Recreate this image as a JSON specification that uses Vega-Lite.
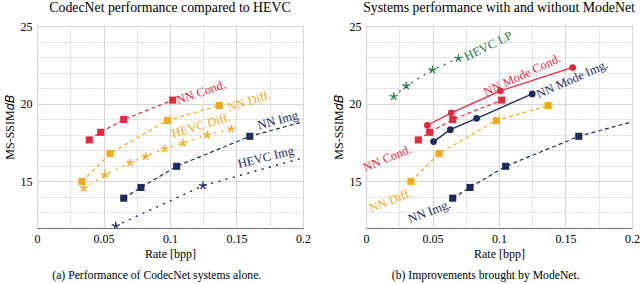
{
  "$schema": "https://vega.github.io/schema/vega-lite/v6.json",
  "background": "white",
  "padding": {"left": 2, "top": 0, "right": 2, "bottom": 0},
  "config": {
    "font": "Liberation Serif",
    "view": {"stroke": "#555555", "strokeWidth": 1},
    "title": {"font": "Liberation Serif", "fontSize": 13.8, "fontWeight": "normal", "color": "black"},
    "text": {"font": "Liberation Serif"},
    "axis": {"labelFont": "Liberation Serif", "labelFontSize": 12, "labelColor": "black", "titleFont": "Liberation Serif", "titleFontSize": 12, "titleFontWeight": "normal", "titleColor": "black", "domain": false, "ticks": false}
  },
  "datasets": {
    "pts": [
      {"s": "NN Cond.", "r": 0.0393, "v": 17.67}, {"s": "NN Cond.", "r": 0.0479, "v": 18.16}, {"s": "NN Cond.", "r": 0.0652, "v": 18.98}, {"s": "NN Cond.", "r": 0.102, "v": 20.23},
      {"s": "NN Diff.", "r": 0.0338, "v": 15.0}, {"s": "NN Diff.", "r": 0.0549, "v": 16.79}, {"s": "NN Diff.", "r": 0.098, "v": 18.92}, {"s": "NN Diff.", "r": 0.137, "v": 19.88},
      {"s": "HEVC Diff.", "r": 0.0351, "v": 14.57}, {"s": "HEVC Diff.", "r": 0.0511, "v": 15.41}, {"s": "HEVC Diff.", "r": 0.0699, "v": 16.2}, {"s": "HEVC Diff.", "r": 0.0817, "v": 16.61}, {"s": "HEVC Diff.", "r": 0.096, "v": 17.09}, {"s": "HEVC Diff.", "r": 0.1098, "v": 17.47}, {"s": "HEVC Diff.", "r": 0.128, "v": 17.99}, {"s": "HEVC Diff.", "r": 0.146, "v": 18.38},
      {"s": "NN Img", "r": 0.0652, "v": 13.92}, {"s": "NN Img", "r": 0.0782, "v": 14.61}, {"s": "NN Img", "r": 0.105, "v": 15.97}, {"s": "NN Img", "r": 0.16, "v": 17.9}, {"s": "NN Img", "r": 0.25, "v": 20.0},
      {"s": "HEVC Img", "r": 0.0592, "v": 12.14}, {"s": "HEVC Img", "r": 0.1248, "v": 14.72}, {"s": "HEVC Img", "r": 0.25, "v": 17.7},
      {"s": "HEVC LP", "r": 0.0208, "v": 20.46}, {"s": "HEVC LP", "r": 0.0303, "v": 21.14}, {"s": "HEVC LP", "r": 0.05, "v": 22.18}, {"s": "HEVC LP", "r": 0.0695, "v": 22.92},
      {"s": "NN Mode Cond.", "r": 0.0461, "v": 18.61}, {"s": "NN Mode Cond.", "r": 0.0641, "v": 19.41}, {"s": "NN Mode Cond.", "r": 0.101, "v": 20.83}, {"s": "NN Mode Cond.", "r": 0.1554, "v": 22.33},
      {"s": "NN Mode Img.", "r": 0.0508, "v": 17.56}, {"s": "NN Mode Img.", "r": 0.0634, "v": 18.33}, {"s": "NN Mode Img.", "r": 0.0832, "v": 19.06}, {"s": "NN Mode Img.", "r": 0.125, "v": 20.63}
    ],
    "labelsA": [
      {"s": "NN Cond.", "t": "NN Cond.", "r": 0.1233, "v": 20.74},
      {"s": "NN Diff.", "t": "NN Diff.", "r": 0.1595, "v": 20.16},
      {"s": "HEVC Diff.", "t": "HEVC Diff.", "r": 0.1233, "v": 18.61},
      {"s": "NN Img", "t": "NN Img", "r": 0.181, "v": 18.94},
      {"s": "HEVC Img", "t": "HEVC Img", "r": 0.172, "v": 16.55}
    ],
    "labelsB": [
      {"s": "HEVC LP", "t": "HEVC LP", "r": 0.092, "v": 23.71},
      {"s": "NN Mode Cond.", "t": "NN Mode Cond.", "r": 0.1175, "v": 21.84},
      {"s": "NN Mode Img.", "t": "NN Mode Img.", "r": 0.155, "v": 21.58},
      {"s": "NN Cond.", "t": "NN Cond.", "r": 0.016, "v": 16.48},
      {"s": "NN Diff.", "t": "NN Diff.", "r": 0.0183, "v": 13.77},
      {"s": "NN Img", "t": "NN Img.", "r": 0.0476, "v": 13.06}
    ]
  },
  "hconcat": [
    {
      "title": {"text": "(a) Performance of CodecNet systems alone.", "orient": "bottom", "fontSize": 11.7, "offset": 10, "anchor": "middle"},
      "vconcat": [
        {
          "title": {"text": "CodecNet performance compared to HEVC", "frame": "group", "offset": 5},
          "width": 266, "height": 202,
          "encoding": {
            "x": {"field": "r", "type": "quantitative", "title": "Rate [bpp]", "scale": {"domain": [0, 0.2], "nice": false},
              "axis": {"values": [0, 0.025, 0.05, 0.075, 0.1, 0.125, 0.15, 0.175, 0.2], "labelExpr": "abs(datum.value*20 - round(datum.value*20)) < 0.000001 ? format(datum.value, '~g') : ''", "labelPadding": 5, "titlePadding": 4, "labelFlush": false, "labelFont": "Liberation Serif", "titleFont": "Liberation Serif",
                "gridColor": {"condition": {"test": "abs(datum.value*20 - round(datum.value*20)) < 0.000001", "value": "#d6d6d6"}, "value": "#b8b8b8"},
                "gridDash": {"condition": {"test": "abs(datum.value*20 - round(datum.value*20)) < 0.000001", "value": []}, "value": [1, 2]}}},
            "y": {"field": "v", "type": "quantitative", "title": "MS-SSIM𝑑𝐵", "scale": {"domain": [12, 25], "nice": false, "zero": false},
              "axis": {"values": [12, 13, 14, 15, 16, 17, 18, 19, 20, 21, 22, 23, 24, 25], "labelExpr": "datum.value % 5 == 0 ? datum.label : ''", "labelPadding": 5, "titlePadding": 4, "labelFont": "Liberation Serif", "titleFont": "Liberation Serif",
                "gridColor": {"condition": {"test": "datum.value % 5 == 0", "value": "#d6d6d6"}, "value": "#b8b8b8"},
                "gridDash": {"condition": {"test": "datum.value % 5 == 0", "value": []}, "value": [1, 2]}}},
            "color": {"field": "s", "type": "nominal", "legend": null,
              "scale": {"domain": ["NN Cond.", "NN Diff.", "HEVC Diff.", "NN Img", "HEVC Img", "HEVC LP", "NN Mode Cond.", "NN Mode Img."],
                "range": ["#e8283c", "#f7a81b", "#f7a81b", "#1c2a5e", "#1c2a5e", "#1f7a45", "#e8283c", "#1c2a5e"]}}
          },
          "layer": [
            {"data": {"name": "pts"}, "transform": [{"filter": {"field": "s", "oneOf": ["NN Cond.", "NN Diff.", "NN Img"]}}],
              "mark": {"type": "line", "clip": true, "strokeWidth": 1.2, "strokeDash": [4, 3]}},
            {"data": {"name": "pts"}, "transform": [{"filter": {"field": "s", "oneOf": ["HEVC Diff.", "HEVC Img"]}}],
              "mark": {"type": "line", "clip": true, "strokeWidth": 1.4, "strokeDash": [1, 6.5], "strokeCap": "round"}},
            {"data": {"name": "pts"}, "transform": [{"filter": {"field": "s", "oneOf": ["NN Cond.", "NN Diff.", "NN Img"]}}],
              "mark": {"type": "point", "clip": true, "shape": "square", "filled": true, "opacity": 1, "size": 50}},
            {"data": {"name": "pts"}, "transform": [{"filter": {"field": "s", "oneOf": ["HEVC Diff.", "HEVC Img"]}}],
              "mark": {"type": "point", "clip": true, "shape": "M0,-1L0,0M0.951,-0.309L0,0M0.588,0.809L0,0M-0.588,0.809L0,0M-0.951,-0.309L0,0", "filled": false, "opacity": 1, "size": 70, "strokeWidth": 1.3}},
            {"data": {"name": "labelsA"}, "mark": {"type": "text", "font": "Liberation Serif", "fontSize": 12.5, "align": "center", "baseline": "middle"},
              "encoding": {"text": {"field": "t"},
                "angle": {"field": "s", "type": "nominal", "legend": null, "scale": {"domain": ["NN Cond.", "NN Diff.", "HEVC Diff.", "NN Img", "HEVC Img"], "range": [-19, -14, -25, -19, -15]}}}}
          ]
        }
      ]
    },
    {
      "title": {"text": "(b) Improvements brought by ModeNet.", "orient": "bottom", "fontSize": 11.7, "offset": 10, "anchor": "middle"},
      "vconcat": [
        {
          "title": {"text": "Systems performance with and without ModeNet", "frame": "group", "offset": 5},
          "width": 266, "height": 202,
          "encoding": {
            "x": {"field": "r", "type": "quantitative", "title": "Rate [bpp]", "scale": {"domain": [0, 0.2], "nice": false},
              "axis": {"values": [0, 0.025, 0.05, 0.075, 0.1, 0.125, 0.15, 0.175, 0.2], "labelExpr": "abs(datum.value*20 - round(datum.value*20)) < 0.000001 ? format(datum.value, '~g') : ''", "labelPadding": 5, "titlePadding": 4, "labelFlush": false, "labelFont": "Liberation Serif", "titleFont": "Liberation Serif",
                "gridColor": {"condition": {"test": "abs(datum.value*20 - round(datum.value*20)) < 0.000001", "value": "#d6d6d6"}, "value": "#b8b8b8"},
                "gridDash": {"condition": {"test": "abs(datum.value*20 - round(datum.value*20)) < 0.000001", "value": []}, "value": [1, 2]}}},
            "y": {"field": "v", "type": "quantitative", "title": "MS-SSIM𝑑𝐵", "scale": {"domain": [12, 25], "nice": false, "zero": false},
              "axis": {"values": [12, 13, 14, 15, 16, 17, 18, 19, 20, 21, 22, 23, 24, 25], "labelExpr": "datum.value % 5 == 0 ? datum.label : ''", "labelPadding": 5, "titlePadding": 4, "labelFont": "Liberation Serif", "titleFont": "Liberation Serif",
                "gridColor": {"condition": {"test": "datum.value % 5 == 0", "value": "#d6d6d6"}, "value": "#b8b8b8"},
                "gridDash": {"condition": {"test": "datum.value % 5 == 0", "value": []}, "value": [1, 2]}}},
            "color": {"field": "s", "type": "nominal", "legend": null,
              "scale": {"domain": ["NN Cond.", "NN Diff.", "HEVC Diff.", "NN Img", "HEVC Img", "HEVC LP", "NN Mode Cond.", "NN Mode Img."],
                "range": ["#e8283c", "#f7a81b", "#f7a81b", "#1c2a5e", "#1c2a5e", "#1f7a45", "#e8283c", "#1c2a5e"]}}
          },
          "layer": [
            {"data": {"name": "pts"}, "transform": [{"filter": {"field": "s", "oneOf": ["NN Cond.", "NN Diff.", "NN Img"]}}],
              "mark": {"type": "line", "clip": true, "strokeWidth": 1.2, "strokeDash": [4, 3]}},
            {"data": {"name": "pts"}, "transform": [{"filter": {"field": "s", "oneOf": ["NN Mode Cond.", "NN Mode Img."]}}],
              "mark": {"type": "line", "clip": true, "strokeWidth": 1.3}},
            {"data": {"name": "pts"}, "transform": [{"filter": {"field": "s", "oneOf": ["HEVC LP"]}}],
              "mark": {"type": "line", "clip": true, "strokeWidth": 1.4, "strokeDash": [1, 6.5], "strokeCap": "round"}},
            {"data": {"name": "pts"}, "transform": [{"filter": {"field": "s", "oneOf": ["NN Cond.", "NN Diff.", "NN Img"]}}],
              "mark": {"type": "point", "clip": true, "shape": "square", "filled": true, "opacity": 1, "size": 50}},
            {"data": {"name": "pts"}, "transform": [{"filter": {"field": "s", "oneOf": ["NN Mode Cond.", "NN Mode Img."]}}],
              "mark": {"type": "point", "clip": true, "shape": "circle", "filled": true, "opacity": 1, "size": 45}},
            {"data": {"name": "pts"}, "transform": [{"filter": {"field": "s", "oneOf": ["HEVC LP"]}}],
              "mark": {"type": "point", "clip": true, "shape": "M0,-1L0,0M0.951,-0.309L0,0M0.588,0.809L0,0M-0.588,0.809L0,0M-0.951,-0.309L0,0", "filled": false, "opacity": 1, "size": 70, "strokeWidth": 1.3}},
            {"data": {"name": "labelsB"}, "mark": {"type": "text", "font": "Liberation Serif", "fontSize": 12.5, "align": "center", "baseline": "middle"},
              "encoding": {"text": {"field": "t"},
                "angle": {"field": "s", "type": "nominal", "legend": null, "scale": {"domain": ["HEVC LP", "NN Mode Cond.", "NN Mode Img.", "NN Cond.", "NN Diff.", "NN Img"], "range": [-26, -21, -23, -43, -46, -32]}}}}
          ]
        }
      ]
    }
  ],
  "resolve": {"scale": {"angle": "independent"}},
  "spacing": 20
}
